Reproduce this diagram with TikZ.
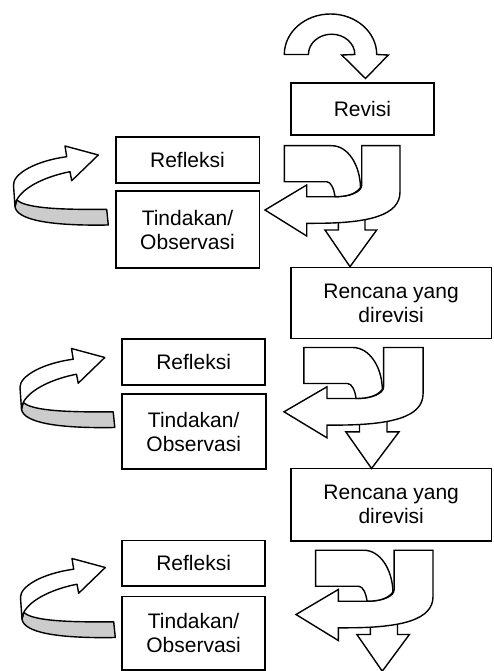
\documentclass[tikz,border=0pt]{standalone}
\usepackage{fontspec}
\setmainfont{Liberation Sans}
\definecolor{bandgrey}{RGB}{204,204,204}
\begin{document}
\begin{tikzpicture}[x=1pt,y=-1pt,
  box/.style={draw, line width=1.6pt, rectangle, inner sep=0pt, align=center,
    font=\fontsize{21}{24}\selectfont},
  shp/.style={draw, fill=white, line width=1.4pt, line join=miter},
  greyband/.style={draw, fill=bandgrey, line width=1.4pt, line join=round},
]
\useasboundingbox (0,0) rectangle (493,671);

% boxes
\node[box, minimum width=143.3pt, minimum height=51.7pt] (rev) at (362.35,109.15) {Revisi};
\node[box, minimum width=143.6pt, minimum height=46pt] (ref1) at (187.5,160) {Refleksi};
\node[box, minimum width=143.6pt, minimum height=77pt] (tin1) at (187.5,229.5) {Tindakan/\\Observasi};
\node[box, minimum width=200.8pt, minimum height=70.8pt] (ren1) at (391.1,302.9) {Rencana yang\\direvisi};
\node[box, minimum width=143pt, minimum height=46pt] (ref2) at (193.6,362) {Refleksi};
\node[box, minimum width=144pt, minimum height=75pt] (tin2) at (193.7,431.5) {Tindakan/\\Observasi};
\node[box, minimum width=200.5pt, minimum height=72.4pt] (ren2) at (391.2,504.5) {Rencana yang\\direvisi};
\node[box, minimum width=143pt, minimum height=45.3pt] (ref3) at (193.6,563.3) {Refleksi};
\node[box, minimum width=142.7pt, minimum height=73.3pt] (tin3) at (193.6,633.3) {Tindakan/\\Observasi};

% top curved arrow
\draw[shp] (284.3,54.5) .. controls (284.3,32.1) and (305,14) .. (330.5,14)
  .. controls (356,14) and (376.7,32.1) .. (376.7,54.5)
  -- (388.3,55) -- (365.5,78.5) -- (341.7,55) -- (354.8,54.5)
  .. controls (354.8,43.3) and (344.4,34.2) .. (331.6,34.2)
  .. controls (318.8,34.2) and (308.4,43.3) .. (308.4,54.5) -- cycle;

% U-turn arrows
\foreach \tx/\dy/\s in {265/0/1, 284/201.8/1.03, 296/404.5/1.015}{
\begin{scope}[shift={(\tx,\dy)}, xscale=\s]
\begin{scope}[shift={(-265,0)}]
  % down arrow
  \draw[shp] (338.3,212) -- (338.3,230) -- (325,230) -- (350,266.7)
    -- (376.7,230) -- (365,230) -- (365,212) -- cycle;
  % main U-turn
  \draw[shp] (361.7,145.7) -- (400,145.7) -- (400,192)
    .. controls (400,215) and (370,223.3) .. (315,223.3)
    -- (306.7,223.3) -- (306.7,236) -- (265,210) -- (306.7,185) -- (306.7,196.7)
    -- (335,196.7) .. controls (350,196.7) and (361.7,192) .. (361.7,185) -- cycle;
  % top curl
  \draw[shp] (284.3,145.7) -- (331.7,145.7)
    .. controls (348,145.7) and (360,165) .. (360.5,187.5)
    .. controls (356,194) and (347,196.7) .. (335,196.7)
    .. controls (334,189) and (331,181.7) .. (326.7,181.7)
    -- (284.3,181.7) -- cycle;
\end{scope}
\end{scope}
}

% left curl arrows
\foreach \dx/\dy in {0/0, 6.5/202.5, 7/412.5}{
\begin{scope}[shift={(\dx,\dy)}]
  \draw[greyband] (16.7,200) .. controls (25,207) and (50,210) .. (106.7,209.3)
    -- (108.3,225) .. controls (50,226) and (17,220) .. (15,206.7) -- cycle;
  \draw[shp, line join=round] (66.7,156.7) -- (65,146) -- (98.3,155) -- (71.7,180.7) -- (70,171.7)
    .. controls (48,176) and (24,186) .. (16.7,200) -- (15,206.7) -- (13.5,185)
    .. controls (13,174) and (35,161) .. cycle;
\end{scope}
}
\end{tikzpicture}
\end{document}
